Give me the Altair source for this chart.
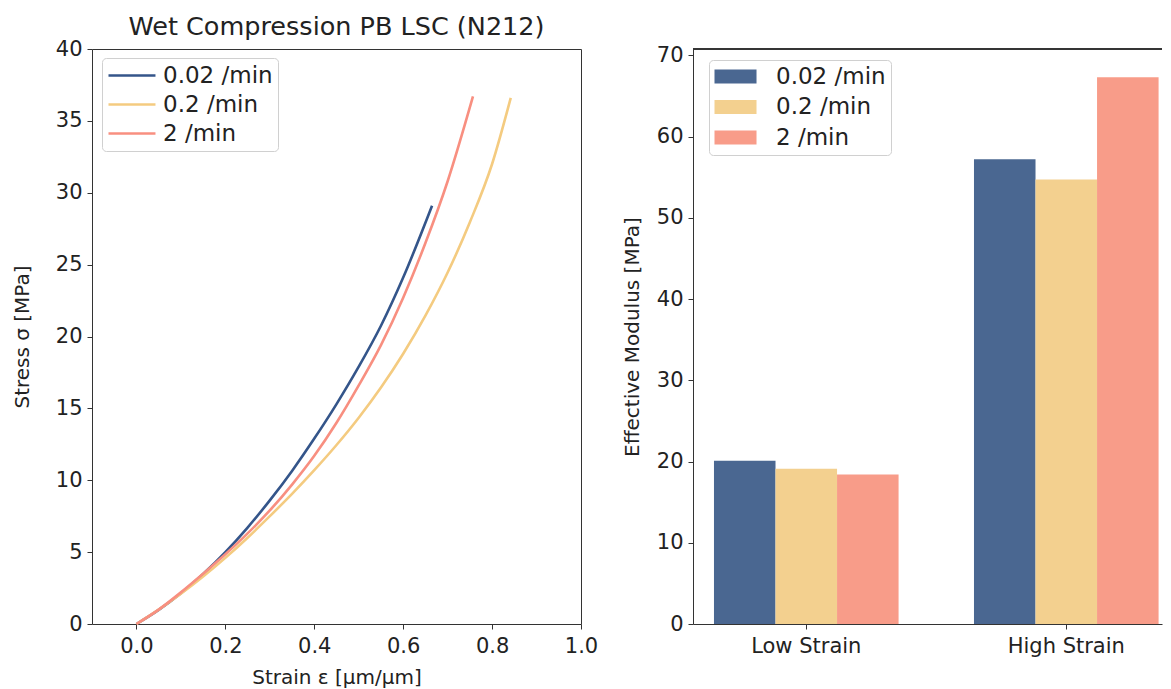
import altair as alt
import pandas as pd

rates = ["0.02 /min", "0.2 /min", "2 /min"]
line_colors = ["#34558a", "#f4cb80", "#f88f80"]
bar_colors = ["#4a6791", "#f3d08f", "#f89c89"]

strain_002 = [0, 0.05, 0.1, 0.15, 0.2, 0.25, 0.3, 0.35, 0.4, 0.45, 0.5, 0.55, 0.6, 0.665]
stress_002 = [0, 0.98, 2.14, 3.48, 5.0, 6.71, 8.6, 10.65, 12.9, 15.3, 17.9, 20.75, 24.1, 29.1]

strain_02 = [0, 0.05, 0.1, 0.15, 0.2, 0.25, 0.3, 0.35, 0.4, 0.45, 0.5, 0.55, 0.6, 0.65, 0.7, 0.75, 0.8, 0.842]
stress_02 = [0, 1.0, 2.1, 3.3, 4.6, 6.0, 7.5, 9.05, 10.7, 12.45, 14.35, 16.45, 18.8, 21.45, 24.45, 27.95, 32.0, 36.6]

strain_2 = [0, 0.05, 0.1, 0.15, 0.2, 0.25, 0.3, 0.35, 0.4, 0.45, 0.5, 0.55, 0.6, 0.65, 0.7, 0.757]
stress_2 = [0, 1.0, 2.2, 3.5, 4.85, 6.3, 7.9, 9.7, 11.7, 14.0, 16.6, 19.4, 22.7, 26.5, 30.8, 36.7]

categories = ["Low Strain", "High Strain"]
modulus_002 = [20.1, 57.2]
modulus_02 = [19.1, 54.7]
modulus_2 = [18.4, 67.3]

modulus_axis_max = 70.77

FONT = "DejaVu Sans"
TXT = "#222222"
AX = "#333333"

rows = []
for r, xs, ys in zip(rates, [strain_002, strain_02, strain_2], [stress_002, stress_02, stress_2]):
    for i, (x, y) in enumerate(zip(xs, ys)):
        rows.append({"rate": r, "strain": x, "stress": y, "idx": i})
lines_df = pd.DataFrame(rows)

brows = []
for r, vals in zip(rates, [modulus_002, modulus_02, modulus_2]):
    for c, v in zip(categories, vals):
        brows.append({"rate": r, "cat": c, "mod": v})
bars_df = pd.DataFrame(brows)

line_legend = alt.Legend(
    title=None, orient="none", legendX=10, legendY=9, direction="vertical",
    symbolType="M-1,0L3.27,0", symbolSize=484, symbolStrokeWidth=2.7,
    labelOffset=31, rowPadding=4, padding=5, fillColor="white",
    strokeColor="#d0d0d0", cornerRadius=4,
)

left = alt.Chart(lines_df).mark_line(strokeWidth=2.6, interpolate="monotone").encode(
    x=alt.X("strain:Q", scale=alt.Scale(domain=[-0.1, 1.0], nice=False, zero=False),
            axis=alt.Axis(values=[0, 0.2, 0.4, 0.6, 0.8, 1.0], format=".1f",
                          title="Strain ε [μm/μm]", titlePadding=11, labelFlush=False,
                          labelPadding=6, domain=False)),
    y=alt.Y("stress:Q", scale=alt.Scale(domain=[0, 40], nice=False),
            axis=alt.Axis(values=[0, 5, 10, 15, 20, 25, 30, 35, 40],
                          title="Stress σ [MPa]", titlePadding=23, labelFlush=False,
                          labelPadding=5, domain=False)),
    color=alt.Color("rate:N", scale=alt.Scale(domain=rates, range=line_colors),
                    sort=rates, legend=line_legend),
    order="idx:Q",
).properties(
    width=489, height=575,
    title=alt.TitleParams("Wet Compression PB LSC (N212)", anchor="middle", offset=-2),
    view=alt.ViewBackground(stroke=AX, strokeWidth=1),
)

bar_legend = alt.Legend(
    title=None, orient="none", legendX=16, legendY=11, direction="vertical",
    symbolType="M-1,-0.636L2.82,-0.636L2.82,0.636L-1,0.636Z", symbolSize=484,
    symbolStrokeWidth=0, labelOffset=39, rowPadding=6.5, padding=5,
    fillColor="white", strokeColor="#d0d0d0", cornerRadius=4,
)

ymod = alt.Scale(domain=[0, modulus_axis_max], nice=False)

bars = alt.Chart(bars_df).mark_bar().encode(
    x=alt.X("cat:N", sort=categories,
            scale=alt.Scale(paddingInner=0.29, paddingOuter=0.0469, align=0.86),
            axis=alt.Axis(title=None, labelAngle=0, labelPadding=6, domain=True)),
    xOffset=alt.XOffset("rate:N", sort=rates, scale=alt.Scale(paddingInner=0, paddingOuter=0)),
    y=alt.Y("mod:Q", scale=ymod,
            axis=alt.Axis(values=[0, 10, 20, 30, 40, 50, 60, 70],
                          title="Effective Modulus [MPa]", titlePadding=14,
                          labelFlush=False, labelPadding=5, domain=True)),
    color=alt.Color("rate:N", scale=alt.Scale(domain=rates, range=bar_colors),
                    sort=rates, legend=bar_legend),
)

top_edge = alt.Chart(bars_df).mark_rule(color=AX, strokeWidth=1).encode(
    y=alt.datum(modulus_axis_max, type="quantitative"),
)

right = alt.layer(bars, top_edge).properties(
    width=469, height=575,
    view=alt.ViewBackground(stroke="transparent"),
)

chart = alt.hconcat(left, right, spacing=112, bounds="flush").resolve_scale(
    color="independent"
).resolve_legend(color="independent").properties(
    padding={"left": 3, "top": 6, "right": 0, "bottom": 0},
    background="white",
).configure_axis(
    labelFont=FONT, labelFontSize=21, labelColor=TXT,
    titleFont=FONT, titleFontSize=20, titleFontWeight="normal", titleColor=TXT,
    tickColor=AX, tickSize=5, tickWidth=1, grid=False,
    domainColor=AX, domainWidth=1,
).configure_legend(
    labelFont=FONT, labelFontSize=23, labelColor=TXT,
).configure_title(
    font=FONT, fontSize=25.5, fontWeight="normal", color=TXT,
)

chart.save("out.html", embed_options={"renderer": "svg", "actions": False})
